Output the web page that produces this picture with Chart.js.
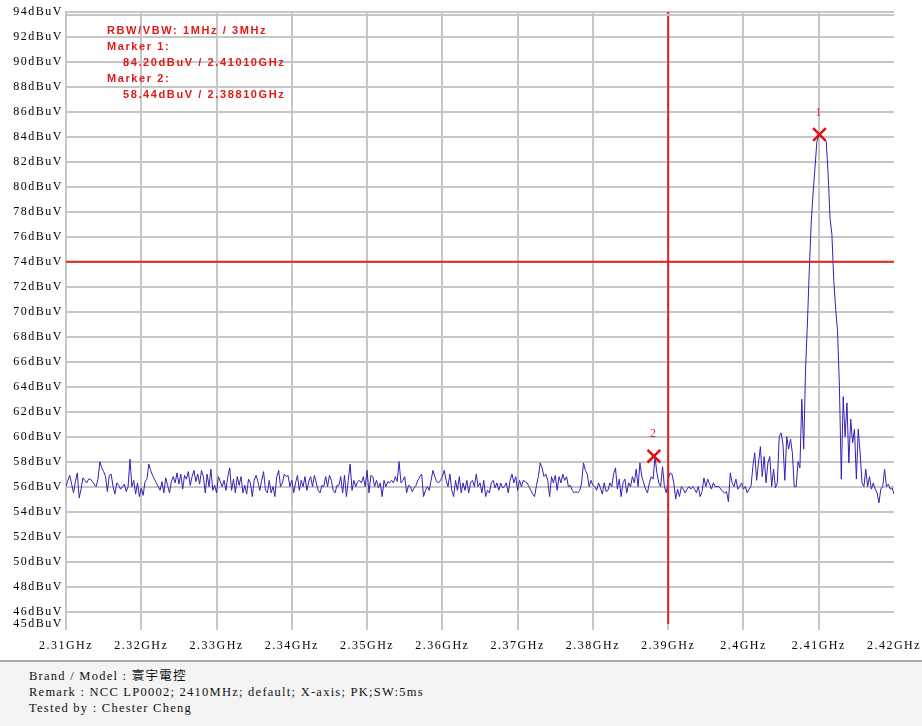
<!DOCTYPE html>
<html>
<head>
<meta charset="utf-8">
<title>Spectrum</title>
<script src="https://cdn.jsdelivr.net/npm/chart.js@4.4.1/dist/chart.umd.min.js"></script>
<style>
  html, body { margin: 0; padding: 0; background: #fff; }
  #wrap { position: relative; width: 922px; height: 660px; }
  #footer {
    width: 922px; height: 66px; box-sizing: border-box;
    border-top: 2px solid #a8a8a8; background: #f4f4f4;
    padding: 6px 0 0 29px;
    font: 12.5px 'Liberation Serif', 'Times New Roman', 'Noto Sans CJK TC', serif;
    letter-spacing: 1.25px; line-height: 16px; color: #111;
  }
</style>
</head>
<body>
<div id="wrap"><canvas id="chart"></canvas></div>
<div id="footer"></div>
<script>
const START_GHZ = 2.31;
const STEP_GHZ = 0.00025;
const traceLevels = [
  // 2.310 – 2.328
  56.0, 56.5, 56.9, 56.2, 55.5, 56.4, 57.1, 55.1, 55.8, 56.7,
  56.5, 56.3, 56.6, 56.6, 56.4, 56.2, 56.0, 56.6, 58.0, 57.5,
  57.2, 56.8, 55.6, 56.9, 57.0, 56.0, 55.4, 56.3, 56.1, 55.8,
  56.0, 56.2, 55.6, 56.0, 58.2, 56.0, 56.5, 55.4, 56.3, 55.2,
  55.9, 55.3, 56.4, 56.6, 57.8, 57.3, 56.9, 56.6, 56.3, 56.0,
  55.7, 56.4, 55.5, 56.7, 56.1, 55.5, 56.4, 56.8, 56.3, 57.1,
  56.2, 57.0, 55.8, 56.9, 56.6, 57.2, 56.1, 56.8, 57.3, 56.4,
  57.0, 56.2,
  // 2.328 – 2.346
  57.3, 56.8, 55.5, 57.0, 56.0, 57.4, 55.7, 56.1, 55.5, 56.8,
  56.4, 56.0, 56.5, 55.7, 56.8, 57.5, 55.7, 56.6, 55.5, 56.8,
  56.1, 56.8, 55.5, 56.1, 55.4, 56.6, 56.3, 55.2, 56.5, 56.9,
  56.4, 55.7, 56.5, 57.2, 55.7, 55.5, 56.5, 55.5, 56.0, 55.2,
  56.8, 57.3, 56.0, 56.3, 57.0, 56.8, 56.9, 56.0, 56.5, 55.5,
  56.3, 56.9, 55.7, 56.5, 56.0, 56.8, 55.7, 56.4, 56.8, 56.0,
  56.9, 56.3, 55.7, 55.5, 56.1, 56.0, 56.8, 56.0, 56.9, 56.5,
  55.7, 55.5, 56.1,
  // 2.346 – 2.365
  56.1, 56.8, 55.5, 56.9, 55.2, 56.5, 57.8, 55.7, 56.5, 56.0,
  56.4, 56.5, 56.3, 56.8, 56.0, 57.3, 55.5, 56.9, 56.8, 56.0,
  56.5, 55.9, 56.3, 55.2, 56.5, 56.0, 56.4, 56.3, 56.5, 56.3,
  56.8, 56.4, 58.0, 56.3, 56.5, 56.8, 55.5, 56.1, 56.0, 55.6,
  55.9, 56.1, 56.5, 56.8, 57.0, 55.2, 55.7, 56.0, 55.7, 56.5,
  57.3, 56.8, 56.4, 56.3, 56.5, 56.8, 57.3, 56.5, 56.0, 57.0,
  55.7, 55.2, 56.5, 55.7, 56.8, 55.5, 56.3, 55.7, 56.5, 55.5,
  56.3, 56.5, 56.0, 57.0,
  // 2.365 – 2.383
  56.0, 56.3, 55.5, 56.5, 55.2, 55.7, 55.5, 56.3, 56.5, 55.9,
  56.3, 55.7, 56.3, 55.9, 56.0, 56.3, 55.5, 56.5, 57.0, 56.3,
  56.8, 55.7, 56.5, 56.0, 56.5, 56.4, 56.3, 56.0, 55.7, 55.4,
  55.2, 56.1, 56.8, 57.9, 57.5, 56.8, 57.0, 56.5, 55.2, 56.8,
  56.3, 56.9, 55.7, 56.8, 56.3, 57.0, 56.5, 56.8, 56.0, 56.1,
  55.7, 55.5, 55.6, 55.5, 55.7, 56.3, 57.9, 57.3, 57.0, 56.0,
  56.5, 56.1, 56.0, 55.7, 56.3, 55.9, 55.4, 56.3, 55.6, 55.7,
  56.3, 56.0, 57.0, 57.5,
  // 2.383 – 2.402
  55.8, 56.6, 55.2, 56.3, 56.6, 55.5, 56.3, 56.0, 56.8, 56.3,
  57.4, 56.0, 57.9, 56.8, 56.3, 55.8, 55.5, 56.3, 56.8, 56.6,
  58.4, 57.1, 56.3, 56.0, 57.6, 56.0, 55.5, 56.6, 57.1, 57.0,
  56.3, 55.0, 55.8, 55.2, 56.0, 55.8, 55.5, 55.8, 56.0, 55.8,
  56.0, 55.8, 55.5, 56.0, 55.2, 55.6, 56.7, 56.0, 56.6, 56.2,
  55.8, 56.3, 56.0, 56.0, 56.0, 55.8, 55.6, 55.5, 55.6, 54.8,
  57.1, 56.3, 56.0, 56.6, 55.8, 56.0, 56.3, 55.8, 56.0, 55.5,
  55.8, 56.0, 57.6, 58.7,
  // 2.402 – 2.420
  56.5, 57.9, 59.2, 56.8, 58.4, 56.3, 57.9, 58.4, 56.0, 57.4,
  55.9, 56.3, 60.0, 60.3, 59.4, 56.5, 60.0, 59.0, 59.8, 58.7,
  56.0, 56.0, 58.0, 57.5, 63.0, 59.0, 65.4, 69.1, 73.4, 77.1,
  79.5, 81.5, 83.6, 84.1, 84.0, 83.9, 83.8, 83.6, 81.0, 77.5,
  76.2, 72.5, 70.2, 68.5, 64.0, 56.6, 63.2, 60.0, 62.7, 57.9,
  61.4, 59.5, 60.6, 56.6, 60.6, 58.7, 56.3, 56.0, 57.4, 56.0,
  56.8, 55.8, 56.3, 55.8, 55.5, 54.7, 55.8, 56.0, 57.4, 56.0,
  56.2, 55.8, 55.9, 55.4
];

const freqTicks = [2.31, 2.32, 2.33, 2.34, 2.35, 2.36, 2.37, 2.38, 2.39, 2.40, 2.41, 2.42];
const levelTicks = [45, 46, 48, 50, 52, 54, 56, 58, 60, 62, 64, 66, 68, 70,
                    72, 74, 76, 78, 80, 82, 84, 86, 88, 90, 92, 94];

const markerFreqs = [2.4101, 2.3881];
const markerLevels = [84.20, 58.44];
const markerNames = ['1', '2'];

const limitFreq = 2.39;   // red vertical line
const limitLevel = 74;    // red horizontal line

const infoLines = [
  'RBW/VBW: 1MHz / 3MHz',
  'Marker 1:',
  '84.20dBuV / 2.41010GHz',
  'Marker 2:',
  '58.44dBuV / 2.38810GHz'
];

const footerLines = [
  'Brand / Model : 寰宇電控',
  'Remark : NCC LP0002; 2410MHz; default; X-axis; PK;SW:5ms',
  'Tested by : Chester Cheng'
];

/* ── styles ── */
const GRID = '#c6c6c6';
const RED = '#dc2424';
const TRACE = '#3a1eb4';
const SERIF = "'Liberation Serif', 'Times New Roman', serif";
const INFO_INDENT = [0, 0, 16, 0, 16];

document.getElementById('footer').innerHTML =
  footerLines.map(t => '<div>' + t + '</div>').join('');

const spacingPlugin = {
  id: 'spacing',
  beforeDraw(chart) { chart.ctx.letterSpacing = '1.5px'; }
};

const overlayPlugin = {
  id: 'overlay',
  afterDatasetsDraw(chart) {
    const { ctx, scales: { x, y }, chartArea } = chart;
    ctx.save();
    // second line of the double top border
    ctx.strokeStyle = GRID;
    ctx.lineWidth = 2;
    ctx.beginPath();
    ctx.moveTo(chartArea.left, chartArea.top + 3);
    ctx.lineTo(chartArea.right, chartArea.top + 3);
    ctx.stroke();

    // marker numbers
    ctx.fillStyle = RED;
    ctx.font = '12px ' + SERIF;
    ctx.textAlign = 'center';
    ctx.textBaseline = 'middle';
    ctx.letterSpacing = '0px';
    markerNames.forEach((name, i) => {
      const px = x.getPixelForValue(markerFreqs[i]);
      const py = y.getPixelForValue(markerLevels[i]);
      ctx.fillText(name, px - 1, py - 22);
    });

    // info block
    ctx.font = "bold 11px 'Liberation Sans', Arial, sans-serif";
    ctx.fillStyle = '#e01818';
    ctx.textAlign = 'left';
    ctx.letterSpacing = '1.6px';
    infoLines.forEach((t, k) => {
      ctx.fillText(t, 107 + INFO_INDENT[k], 31 + 16 * k);
    });
    ctx.restore();
  }
};

const lastFreq = freqTicks[freqTicks.length - 1];

new Chart(document.getElementById('chart'), {
  type: 'line',
  data: {
    datasets: [
      {
        label: 'trace',
        data: traceLevels.map((v, i) => ({ x: START_GHZ + i * STEP_GHZ, y: v })),
        borderColor: TRACE,
        borderWidth: 1,
        pointRadius: 0,
        tension: 0,
        order: 3
      },
      {
        label: 'limit level',
        data: [{ x: freqTicks[0], y: limitLevel }, { x: lastFreq, y: limitLevel }],
        borderColor: RED,
        borderWidth: 2,
        pointRadius: 0,
        order: 2
      },
      {
        label: 'limit freq',
        data: [{ x: limitFreq, y: levelTicks[0] }, { x: limitFreq, y: levelTicks[levelTicks.length - 1] }],
        borderColor: RED,
        borderWidth: 2,
        pointRadius: 0,
        order: 2
      },
      {
        label: 'markers',
        data: markerFreqs.map((f, i) => ({ x: f, y: markerLevels[i] })),
        showLine: false,
        pointStyle: 'crossRot',
        pointRadius: 9,
        pointBorderWidth: 2.5,
        borderColor: '#e01010',
        backgroundColor: '#e01010',
        order: 1
      }
    ]
  },
  options: {
    responsive: true,
    maintainAspectRatio: false,
    animation: false,
    events: [],
    layout: { padding: { top: 12, right: 28, left: 0, bottom: 0 } },
    plugins: { legend: { display: false }, tooltip: { enabled: false } },
    scales: {
      x: {
        type: 'linear',
        min: freqTicks[0],
        max: lastFreq,
        afterBuildTicks: s => { s.ticks = freqTicks.map(v => ({ value: v })); },
        afterFit: s => {
          s.height = 36;
          s.paddingLeft = 0;
          s.paddingRight = 0;
        },
        ticks: {
          autoSkip: false,
          maxRotation: 0,
          padding: 9,
          color: '#000',
          font: { family: SERIF, size: 12 },
          callback: v => (+v.toFixed(2)) + 'GHz'
        },
        grid: {
          color: c => (c.tick && c.tick.value > lastFreq - 0.005) ? 'rgba(0,0,0,0)' : GRID,
          lineWidth: 2,
          tickLength: 6
        },
        border: { display: false }
      },
      y: {
        min: levelTicks[0],
        max: levelTicks[levelTicks.length - 1],
        afterBuildTicks: s => { s.ticks = levelTicks.map(v => ({ value: v })); },
        afterFit: s => { s.width = 66; },
        ticks: {
          padding: 3,
          color: '#000',
          font: { family: SERIF, size: 12 },
          callback: v => v + 'dBuV'
        },
        grid: {
          color: c => (c.tick && c.tick.value === levelTicks[0]) ? 'rgba(0,0,0,0)' : GRID,
          lineWidth: 2,
          drawTicks: false
        },
        border: { display: true, color: GRID, width: 2 }
      }
    }
  },
  plugins: [spacingPlugin, overlayPlugin]
});
</script>
</body>
</html>
